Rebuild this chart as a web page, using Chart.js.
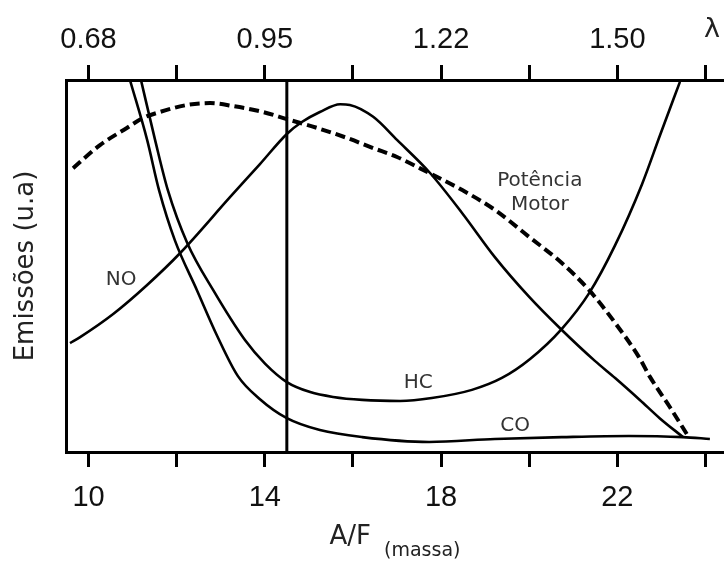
<!DOCTYPE html>
<html>
<head>
<meta charset="utf-8">
<script src="https://cdn.jsdelivr.net/npm/chart.js@4.4.1/dist/chart.umd.min.js"></script>
<style>
  html, body { margin: 0; padding: 0; background: #fff; }
  #wrap { width: 724px; height: 561px; }
</style>
</head>
<body>
<div id="wrap"><canvas id="myChart" width="724" height="561"></canvas></div>
<script>
// eixo A/F (massa) e valores de lambda correspondentes
const afTicks = [10, 12, 14, 16, 18, 20, 22, 24];
const afLabeled = [10, 14, 18, 22];
const lambdaLabels = ['0.68', '0.95', '1.22', '1.50'];
const stoich = 14.5;

// curvas (emissões em unidades arbitrárias, 0-100)
const coX = [10.94, 11.33, 11.60, 11.96, 12.46, 12.92, 13.39, 13.89, 14.50, 15.25, 16.21, 17.73, 19.22, 20.74, 22.26, 23.49, 24.10];
const coY = [100, 83.9, 70.4, 56.9, 43.5, 31.2, 20.4, 14.2, 9.1, 5.9, 4.0, 2.7, 3.5, 4.0, 4.3, 4.0, 3.5];

const hcX = [11.19, 11.51, 11.80, 12.24, 12.83, 13.55, 14.01, 14.50, 15.03, 15.55, 16.21, 17.07, 17.79, 18.70, 19.38, 20.02, 20.74, 21.36, 21.95, 22.56, 22.97, 23.42];
const hcY = [100, 83.9, 70.4, 56.2, 43.5, 30.1, 23.7, 18.8, 16.1, 14.8, 14.0, 13.7, 14.5, 16.7, 19.9, 25.0, 33.1, 42.7, 55.6, 72.0, 85.2, 99.5];

const noX = [9.58, 9.81, 10.56, 11.33, 12.08, 13.21, 13.89, 14.50, 14.84, 15.25, 15.71, 15.93, 16.46, 17.00, 17.75, 18.48, 19.22, 20.00, 20.74, 21.49, 21.95, 22.51, 22.96, 23.49];
const noY = [29.3, 30.9, 37.1, 44.9, 53.5, 68.5, 77.4, 85.5, 88.7, 91.4, 93.5, 93.3, 90.1, 83.9, 75.0, 64.2, 52.4, 41.7, 32.8, 24.5, 19.9, 14.0, 9.1, 4.0];

const powX = [9.65, 10.26, 10.87, 11.24, 11.62, 12.24, 12.76, 13.28, 13.96, 14.50, 15.19, 15.87, 16.46, 17.00, 17.73, 18.48, 19.22, 20.00, 20.74, 21.36, 21.95, 22.49, 22.74, 23.19, 23.62];
const powY = [76.3, 82.5, 87.1, 89.8, 91.4, 93.3, 93.8, 93.0, 91.4, 89.5, 87.1, 84.4, 81.7, 79.3, 75.0, 70.4, 65.1, 57.8, 50.8, 43.5, 34.7, 25.5, 20.2, 12.1, 4.0];

function pts(xs, ys) {
    return xs.map((x, i) => ({x: x, y: ys[i]}));
}

const tickFont = {family: '"Liberation Sans", Arial, sans-serif', size: 29};
const textFont = '"DejaVu Sans", Verdana, sans-serif';

// rótulos das curvas, em coordenadas dos eixos
const notes = [
    {text: 'NO', x: 10.74, y: 46.2},
    {text: 'HC', x: 17.48, y: 18.5},
    {text: 'CO', x: 19.68, y: 7.0},
    {text: 'Potência', x: 20.24, y: 72.8},
    {text: 'Motor', x: 20.24, y: 66.4}
];

const textPlugin = {
    id: 'textPlugin',
    afterDraw(chart) {
        const {ctx, chartArea, scales} = chart;
        const x = scales.x, y = scales.y;
        ctx.save();
        ctx.fillStyle = '#333';
        ctx.textAlign = 'center';
        ctx.textBaseline = 'middle';
        ctx.font = '20px ' + textFont;
        notes.forEach(n => ctx.fillText(n.text, x.getPixelForValue(n.x), y.getPixelForValue(n.y)));

        // título do eixo x com subscrito
        ctx.fillStyle = '#222';
        ctx.textAlign = 'left';
        ctx.font = '26px ' + textFont;
        const w1 = ctx.measureText('A/F').width;
        ctx.font = '19px ' + textFont;
        const w2 = ctx.measureText('(massa)').width;
        const gap = 13;
        const x0 = (chartArea.left + chartArea.right) / 2 - (w1 + gap + w2) / 2;
        ctx.font = '26px ' + textFont;
        ctx.fillText('A/F', x0, 537);
        ctx.font = '19px ' + textFont;
        ctx.fillText('(massa)', x0 + w1 + gap, 551);

        // símbolo lambda do eixo superior
        ctx.textAlign = 'center';
        ctx.font = '27px ' + textFont;
        ctx.fillText('λ', 712, 30);
        ctx.restore();
    }
};

function fixTicks(scale) {
    scale.ticks = afTicks.map(v => ({value: v}));
}

const solid = {borderColor: '#000', borderWidth: 2.6, pointRadius: 0, fill: false, cubicInterpolationMode: 'monotone'};

new Chart(document.getElementById('myChart'), {
    type: 'line',
    data: {
        datasets: [
            Object.assign({label: 'CO', data: pts(coX, coY)}, solid),
            Object.assign({label: 'HC', data: pts(hcX, hcY)}, solid),
            Object.assign({label: 'NO', data: pts(noX, noY)}, solid),
            {
                label: 'Potência Motor',
                data: pts(powX, powY),
                borderColor: '#000',
                borderWidth: 4,
                borderDash: [10, 5],
                pointRadius: 0,
                fill: false,
                cubicInterpolationMode: 'monotone'
            },
            {
                label: 'estequiométrico',
                data: [{x: stoich, y: 0}, {x: stoich, y: 100}],
                borderColor: '#000',
                borderWidth: 3,
                pointRadius: 0,
                fill: false
            }
        ]
    },
    options: {
        responsive: false,
        animation: false,
        layout: {padding: 0},
        plugins: {
            legend: {display: false},
            tooltip: {enabled: false}
        },
        scales: {
            x: {
                type: 'linear',
                position: 'bottom',
                min: 9.489,
                max: 24.42,
                afterBuildTicks: fixTicks,
                afterFit: s => { s.height = 109; },
                grid: {drawOnChartArea: false, tickLength: 15, tickWidth: 3, tickColor: '#000'},
                border: {color: '#000', width: 3},
                ticks: {
                    font: tickFont,
                    color: '#111',
                    padding: 14,
                    maxRotation: 0,
                    autoSkip: false,
                    callback: v => afLabeled.includes(v) ? String(v) : ''
                }
            },
            x2: {
                type: 'linear',
                position: 'top',
                min: 9.489,
                max: 24.42,
                afterBuildTicks: fixTicks,
                afterFit: s => { s.height = 80; },
                grid: {drawOnChartArea: false, tickLength: 15, tickWidth: 3, tickColor: '#000'},
                border: {color: '#000', width: 3},
                ticks: {
                    font: tickFont,
                    color: '#111',
                    padding: 8,
                    maxRotation: 0,
                    autoSkip: false,
                    callback: v => {
                        const i = afLabeled.indexOf(v);
                        return i >= 0 ? lambdaLabels[i] : '';
                    }
                }
            },
            y: {
                min: 0,
                max: 100,
                afterFit: s => { s.width = 66; },
                grid: {display: false},
                border: {color: '#000', width: 3},
                ticks: {display: false},
                title: {
                    display: true,
                    text: 'Emissões (u.a)',
                    color: '#222',
                    font: {family: textFont, size: 26},
                    padding: {top: 11, bottom: 0}
                }
            }
        }
    },
    plugins: [textPlugin]
});
</script>
</body>
</html>
